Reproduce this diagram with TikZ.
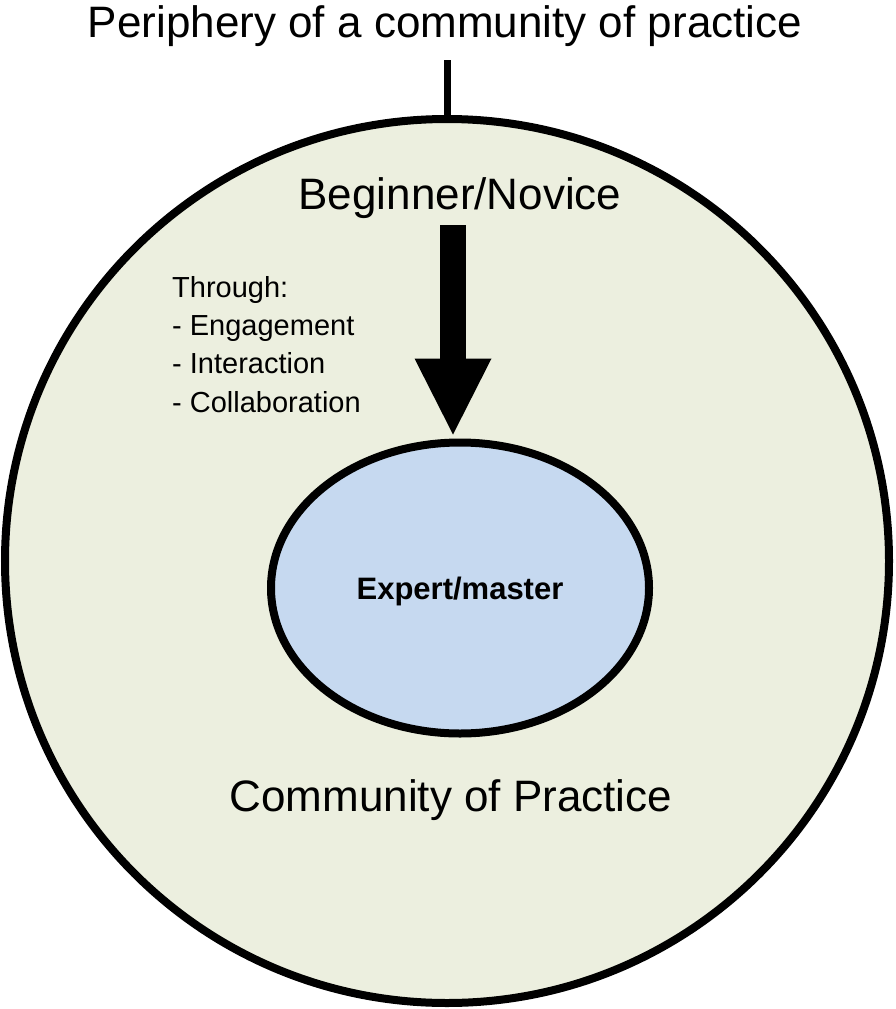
\documentclass[tikz,border=0pt]{standalone}
\usepackage{fontspec}
\setmainfont{Liberation Sans}
\usetikzlibrary{shapes.geometric, positioning, arrows.meta}
\definecolor{ringbg}{RGB}{236,239,223}
\definecolor{corebg}{RGB}{198,217,240}

\begin{document}
\begin{tikzpicture}[
        x=1pt, y=-1pt,
        ring/.style={draw, circle, minimum size=884pt, inner sep=0pt, fill=ringbg, line width=8pt},
        core/.style={draw, ellipse, minimum width=378pt, minimum height=291pt, inner sep=0pt, fill=corebg, line width=8pt, font=\bfseries\fontsize{31}{37}\selectfont, text depth=0pt},
        big/.style={font=\fontsize{44}{53}\selectfont, inner sep=0pt},
        small/.style={font=\fontsize{29}{38.3}\selectfont, align=left, inner sep=0pt},
        arr/.style={-{Triangle[width=77pt, length=76pt, line width=0pt]}, line width=26pt}
    ]

    \useasboundingbox (0,0) rectangle (896,1009);

    \node[ring] (cop) at (447,561) {};
    \node[core] (expert) at (460,588) {Expert/master};
    \node[big, anchor=base] (title) at (445,37) {Periphery of a community of practice};
    \node[big, anchor=base] (novice) at (460,209) {Beginner/Novice};
    \node[big, anchor=base] (name) at (451,811) {Community of Practice};
    \node[small, anchor=base west] (through) at (172,412) {Through:\\- Engagement\\- Interaction\\- Collaboration};

    \coordinate (arrtop) at (453,225);
    \draw[line width=7pt] ([yshift=-14pt]title.south -| cop.north) -- (cop.north);
    \draw[arr, shorten >=4pt] (arrtop) -- (arrtop |- expert.north);

\end{tikzpicture}
\end{document}
